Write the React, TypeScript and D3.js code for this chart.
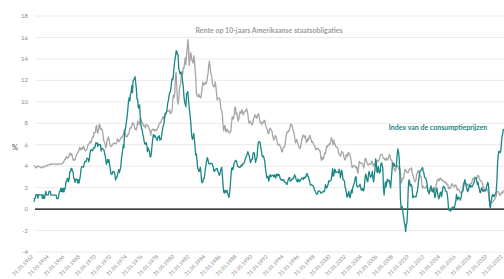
import React from "react";
import * as d3 from "d3";

// Monthly values, Jan 1962 .. Jan 2022
const bondYield: number[] = [
  // 1962
  4.08, 4.04, 3.93, 3.84, 3.87, 3.91, 4.01, 3.98, 3.98, 3.93, 3.92, 3.86,
  // 1963
  3.83, 3.92, 3.93, 3.97, 3.93, 3.99, 4.02, 4.0, 4.08, 4.11, 4.12, 4.13,
  // 1964
  4.17, 4.15, 4.22, 4.23, 4.2, 4.17, 4.19, 4.19, 4.2, 4.19, 4.15, 4.18,
  // 1965
  4.19, 4.21, 4.21, 4.2, 4.21, 4.21, 4.2, 4.25, 4.29, 4.35, 4.45, 4.62,
  // 1966
  4.61, 4.83, 4.87, 4.75, 4.78, 4.81, 5.02, 5.22, 5.18, 5.01, 5.16, 4.84,
  // 1967
  4.58, 4.63, 4.54, 4.59, 4.85, 5.02, 5.16, 5.28, 5.3, 5.48, 5.75, 5.7,
  // 1968
  5.53, 5.56, 5.74, 5.64, 5.87, 5.72, 5.5, 5.42, 5.46, 5.58, 5.7, 6.03,
  // 1969
  6.04, 6.19, 6.3, 6.17, 6.32, 6.57, 6.72, 6.69, 7.16, 7.1, 7.14, 7.65,
  // 1970
  7.79, 7.24, 7.07, 7.39, 7.91, 7.84, 7.46, 7.53, 7.39, 7.33, 6.84, 6.39,
  // 1971
  6.24, 6.11, 5.7, 5.83, 6.39, 6.52, 6.73, 6.58, 6.14, 5.93, 5.81, 5.93,
  // 1972
  5.95, 6.08, 6.07, 6.19, 6.13, 6.11, 6.11, 6.21, 6.55, 6.48, 6.28, 6.36,
  // 1973
  6.46, 6.64, 6.71, 6.67, 6.85, 6.9, 7.13, 7.4, 7.09, 6.79, 6.73, 6.74,
  // 1974
  6.99, 6.96, 7.21, 7.51, 7.58, 7.54, 7.81, 8.04, 8.04, 7.9, 7.68, 7.43,
  // 1975
  7.5, 7.39, 7.73, 8.23, 8.06, 7.86, 8.06, 8.4, 8.43, 8.14, 8.05, 8.0,
  // 1976
  7.74, 7.79, 7.73, 7.56, 7.9, 7.86, 7.83, 7.77, 7.59, 7.41, 7.29, 6.87,
  // 1977
  7.21, 7.39, 7.46, 7.37, 7.46, 7.28, 7.33, 7.4, 7.34, 7.52, 7.58, 7.69,
  // 1978
  7.96, 8.03, 8.04, 8.15, 8.35, 8.46, 8.64, 8.41, 8.42, 8.64, 8.81, 9.01,
  // 1979
  9.1, 9.1, 9.12, 9.18, 9.25, 8.91, 8.95, 9.03, 9.33, 10.3, 10.65, 10.39,
  // 1980
  10.8, 12.41, 12.75, 11.47, 10.18, 9.78, 10.25, 11.1, 11.51, 11.75, 12.68, 12.84,
  // 1981
  12.57, 13.19, 13.12, 13.68, 14.1, 13.47, 14.28, 14.94, 15.8, 15.15, 13.39, 13.72,
  // 1982
  14.59, 14.43, 13.86, 13.87, 13.62, 14.3, 13.95, 13.06, 12.34, 10.91, 10.55, 10.54,
  // 1983
  10.46, 10.72, 10.51, 10.4, 10.38, 10.85, 11.38, 11.85, 11.65, 11.54, 11.69, 11.83,
  // 1984
  11.67, 11.84, 12.32, 12.63, 13.41, 13.8, 13.36, 12.72, 12.52, 12.16, 11.57, 11.5,
  // 1985
  11.38, 11.51, 11.86, 11.43, 10.85, 10.16, 10.31, 10.33, 10.37, 10.24, 9.78, 9.26,
  // 1986
  9.19, 8.7, 7.78, 7.3, 7.71, 7.8, 7.3, 7.17, 7.45, 7.43, 7.25, 7.11,
  // 1987
  7.08, 7.25, 7.25, 8.02, 8.61, 8.4, 8.45, 8.76, 9.42, 9.52, 8.86, 8.99,
  // 1988
  8.67, 8.21, 8.37, 8.72, 9.09, 8.92, 9.06, 9.26, 8.98, 8.8, 8.96, 9.11,
  // 1989
  9.09, 9.17, 9.36, 9.18, 8.86, 8.28, 8.02, 8.11, 8.19, 8.01, 7.87, 7.84,
  // 1990
  8.21, 8.47, 8.59, 8.79, 8.76, 8.48, 8.47, 8.75, 8.89, 8.72, 8.39, 8.08,
  // 1991
  8.09, 7.85, 8.11, 8.04, 8.07, 8.28, 8.27, 7.9, 7.65, 7.53, 7.42, 7.09,
  // 1992
  7.03, 7.34, 7.54, 7.48, 7.39, 7.26, 6.84, 6.59, 6.42, 6.59, 6.87, 6.77,
  // 1993
  6.6, 6.26, 5.98, 5.97, 6.04, 5.96, 5.81, 5.68, 5.36, 5.33, 5.72, 5.77,
  // 1994
  5.75, 5.97, 6.48, 6.97, 7.18, 7.1, 7.3, 7.24, 7.46, 7.74, 7.96, 7.81,
  // 1995
  7.78, 7.47, 7.2, 7.06, 6.63, 6.17, 6.28, 6.49, 6.2, 6.04, 5.93, 5.71,
  // 1996
  5.65, 5.81, 6.27, 6.51, 6.74, 6.91, 6.87, 6.64, 6.83, 6.53, 6.2, 6.3,
  // 1997
  6.58, 6.42, 6.69, 6.89, 6.71, 6.49, 6.22, 6.3, 6.21, 6.03, 5.88, 5.81,
  // 1998
  5.54, 5.57, 5.65, 5.64, 5.65, 5.5, 5.46, 5.34, 4.81, 4.53, 4.83, 4.65,
  // 1999
  4.72, 5.0, 5.23, 5.18, 5.54, 5.9, 5.79, 5.94, 5.92, 6.11, 6.03, 6.28,
  // 2000
  6.66, 6.52, 6.26, 5.99, 6.44, 6.1, 6.05, 5.83, 5.8, 5.74, 5.72, 5.24,
  // 2001
  5.16, 5.1, 4.89, 5.14, 5.39, 5.28, 5.24, 4.97, 4.73, 4.57, 4.65, 5.09,
  // 2002
  5.04, 4.91, 5.28, 5.21, 5.16, 4.93, 4.65, 4.26, 3.87, 3.94, 4.05, 4.03,
  // 2003
  4.05, 3.9, 3.81, 3.96, 3.57, 3.33, 3.98, 4.45, 4.27, 4.29, 4.3, 4.27,
  // 2004
  4.15, 4.08, 3.83, 4.35, 4.72, 4.73, 4.5, 4.28, 4.13, 4.1, 4.19, 4.23,
  // 2005
  4.22, 4.17, 4.5, 4.34, 4.14, 4.0, 4.18, 4.26, 4.2, 4.46, 4.54, 4.47,
  // 2006
  4.42, 4.57, 4.72, 4.99, 5.11, 5.11, 5.09, 4.88, 4.72, 4.73, 4.6, 4.56,
  // 2007
  4.76, 4.72, 4.56, 4.69, 4.75, 5.1, 5.0, 4.67, 4.52, 4.53, 4.15, 4.1,
  // 2008
  3.74, 3.74, 3.51, 3.68, 3.88, 4.1, 4.01, 3.89, 3.69, 3.81, 3.53, 2.42,
  // 2009
  2.52, 2.87, 2.82, 2.93, 3.29, 3.72, 3.56, 3.59, 3.4, 3.39, 3.4, 3.59,
  // 2010
  3.73, 3.69, 3.73, 3.85, 3.42, 3.2, 3.01, 2.7, 2.65, 2.54, 2.76, 3.29,
  // 2011
  3.39, 3.58, 3.41, 3.46, 3.17, 3.0, 3.0, 2.3, 1.98, 2.15, 2.01, 1.98,
  // 2012
  1.97, 1.97, 2.17, 2.05, 1.8, 1.62, 1.53, 1.68, 1.72, 1.75, 1.65, 1.72,
  // 2013
  1.91, 1.98, 1.96, 1.76, 1.93, 2.3, 2.58, 2.74, 2.81, 2.62, 2.72, 2.9,
  // 2014
  2.86, 2.71, 2.72, 2.71, 2.56, 2.6, 2.54, 2.42, 2.53, 2.3, 2.33, 2.21,
  // 2015
  1.88, 1.98, 2.04, 1.94, 2.2, 2.36, 2.32, 2.17, 2.17, 2.07, 2.26, 2.24,
  // 2016
  2.09, 1.78, 1.89, 1.81, 1.81, 1.64, 1.5, 1.56, 1.63, 1.76, 2.14, 2.49,
  // 2017
  2.43, 2.42, 2.48, 2.3, 2.3, 2.19, 2.32, 2.21, 2.2, 2.36, 2.35, 2.4,
  // 2018
  2.58, 2.86, 2.84, 2.87, 2.98, 2.91, 2.89, 2.89, 3.0, 3.15, 3.12, 2.83,
  // 2019
  2.71, 2.68, 2.57, 2.53, 2.4, 2.07, 2.06, 1.63, 1.7, 1.71, 1.81, 1.86,
  // 2020
  1.76, 1.5, 0.87, 0.66, 0.67, 0.73, 0.62, 0.65, 0.68, 0.79, 0.87, 0.93,
  // 2021
  1.08, 1.26, 1.61, 1.64, 1.62, 1.52, 1.32, 1.28, 1.37, 1.58, 1.56, 1.47,
  // 2022
  1.76,
];

const cpiInflation: number[] = [
  // 1962
  0.67, 1.01, 1.01, 1.34, 1.34, 1.34, 1.01, 1.34, 1.33, 1.33, 1.33, 1.33,
  // 1963
  1.33, 1.0, 1.33, 0.99, 0.99, 1.32, 1.66, 1.32, 1.32, 1.32, 1.32, 1.64,
  // 1964
  1.64, 1.64, 1.31, 1.31, 1.31, 1.31, 1.3, 1.3, 1.3, 1.3, 1.29, 0.97,
  // 1965
  0.97, 0.97, 1.29, 1.62, 1.62, 1.94, 1.62, 1.93, 1.61, 1.93, 1.61, 1.92,
  // 1966
  1.92, 2.56, 2.56, 2.87, 2.87, 2.53, 2.84, 3.48, 3.49, 3.79, 3.79, 3.49,
  // 1967
  3.46, 2.83, 2.82, 2.5, 2.8, 2.79, 2.77, 2.45, 2.75, 2.43, 2.74, 3.04,
  // 1968
  3.65, 3.95, 3.94, 3.93, 3.92, 4.21, 4.45, 4.44, 4.43, 4.73, 4.72, 4.72,
  // 1969
  4.4, 4.69, 5.25, 5.52, 5.51, 5.49, 5.44, 5.71, 5.7, 5.68, 5.93, 6.2,
  // 1970
  6.18, 6.15, 5.82, 6.06, 6.04, 6.01, 5.98, 5.41, 5.66, 5.64, 5.6, 5.57,
  // 1971
  5.29, 5.0, 4.71, 4.16, 4.4, 4.62, 4.36, 4.62, 4.08, 3.81, 3.28, 3.27,
  // 1972
  3.27, 3.51, 3.5, 3.49, 3.23, 2.71, 2.95, 2.94, 3.19, 3.42, 3.67, 3.41,
  // 1973
  3.65, 3.87, 4.59, 5.06, 5.53, 5.99, 5.73, 7.38, 7.36, 7.8, 8.25, 8.71,
  // 1974
  9.39, 10.02, 10.39, 10.09, 10.71, 10.86, 11.51, 10.86, 11.95, 12.06, 12.2, 12.34,
  // 1975
  11.8, 11.23, 10.25, 10.21, 9.47, 9.39, 9.72, 8.6, 7.91, 7.44, 7.38, 6.94,
  // 1976
  6.72, 6.29, 6.07, 6.05, 6.2, 5.97, 5.35, 5.71, 5.49, 5.46, 4.88, 4.86,
  // 1977
  5.22, 5.91, 6.44, 6.95, 6.73, 6.87, 6.83, 6.62, 6.6, 6.39, 6.72, 6.7,
  // 1978
  6.84, 6.43, 6.55, 6.5, 6.97, 7.41, 7.7, 7.84, 8.31, 8.93, 8.89, 9.02,
  // 1979
  9.28, 9.86, 10.09, 10.49, 10.85, 10.89, 11.26, 11.82, 12.18, 12.07, 12.61, 13.29,
  // 1980
  13.91, 14.18, 14.76, 14.73, 14.41, 14.38, 13.13, 12.87, 12.6, 12.77, 12.65, 12.52,
  // 1981
  11.83, 11.41, 10.49, 10.0, 9.78, 9.55, 10.76, 10.8, 10.95, 10.14, 9.59, 8.92,
  // 1982
  8.39, 7.62, 6.78, 6.51, 6.68, 7.06, 6.44, 5.85, 5.04, 5.14, 4.59, 3.83,
  // 1983
  3.71, 3.49, 3.6, 3.9, 3.55, 2.58, 2.46, 2.56, 2.86, 2.85, 3.27, 3.79,
  // 1984
  4.19, 4.6, 4.8, 4.56, 4.23, 4.22, 4.2, 4.29, 4.27, 4.26, 4.05, 3.95,
  // 1985
  3.53, 3.52, 3.7, 3.69, 3.77, 3.76, 3.55, 3.35, 3.14, 3.23, 3.51, 3.8,
  // 1986
  3.89, 3.11, 2.26, 1.59, 1.49, 1.77, 1.58, 1.57, 1.75, 1.47, 1.28, 1.1,
  // 1987
  1.46, 2.1, 3.03, 3.78, 3.86, 3.65, 3.93, 4.28, 4.36, 4.53, 4.53, 4.43,
  // 1988
  4.05, 3.94, 3.93, 3.9, 3.89, 3.96, 4.13, 4.02, 4.17, 4.25, 4.25, 4.42,
  // 1989
  4.67, 4.83, 4.98, 5.11, 5.36, 5.17, 4.98, 4.71, 4.34, 4.49, 4.66, 4.65,
  // 1990
  5.2, 5.26, 5.23, 4.71, 4.36, 4.67, 4.82, 5.62, 6.16, 6.29, 6.27, 6.11,
  // 1991
  5.65, 5.31, 4.9, 4.89, 4.95, 4.7, 4.45, 3.8, 3.39, 2.92, 2.99, 3.06,
  // 1992
  2.6, 2.82, 3.19, 3.18, 3.02, 3.09, 3.16, 3.15, 2.99, 3.2, 3.05, 2.9,
  // 1993
  3.26, 3.25, 3.09, 3.23, 3.22, 3.0, 2.78, 2.77, 2.69, 2.75, 2.68, 2.75,
  // 1994
  2.52, 2.52, 2.51, 2.36, 2.29, 2.49, 2.77, 2.9, 2.96, 2.61, 2.67, 2.67,
  // 1995
  2.8, 2.86, 2.85, 3.05, 3.19, 3.04, 2.76, 2.62, 2.54, 2.81, 2.61, 2.54,
  // 1996
  2.73, 2.65, 2.84, 2.9, 2.89, 2.75, 2.95, 2.88, 3.0, 2.99, 3.26, 3.32,
  // 1997
  3.04, 3.03, 2.76, 2.5, 2.23, 2.3, 2.23, 2.23, 2.15, 2.08, 1.83, 1.7,
  // 1998
  1.57, 1.44, 1.37, 1.44, 1.69, 1.68, 1.68, 1.62, 1.49, 1.49, 1.55, 1.61,
  // 1999
  1.67, 1.61, 1.73, 2.28, 2.09, 1.96, 2.14, 2.26, 2.63, 2.56, 2.62, 2.68,
  // 2000
  2.74, 3.22, 3.76, 3.07, 3.19, 3.73, 3.66, 3.41, 3.45, 3.45, 3.45, 3.39,
  // 2001
  3.73, 3.53, 2.92, 3.27, 3.62, 3.25, 2.72, 2.72, 2.65, 2.13, 1.9, 1.55,
  // 2002
  1.14, 1.14, 1.48, 1.64, 1.18, 1.07, 1.46, 1.8, 1.51, 2.03, 2.2, 2.38,
  // 2003
  2.6, 2.98, 3.02, 2.22, 2.06, 2.11, 2.11, 2.16, 2.32, 2.04, 1.77, 1.88,
  // 2004
  1.93, 1.69, 1.74, 2.29, 3.05, 3.27, 2.99, 2.65, 2.54, 3.19, 3.52, 3.26,
  // 2005
  2.97, 3.01, 3.15, 3.51, 2.8, 2.53, 3.17, 3.64, 4.69, 4.35, 3.46, 3.42,
  // 2006
  3.99, 3.6, 3.36, 3.55, 4.17, 4.32, 4.15, 3.82, 2.06, 1.31, 1.97, 2.54,
  // 2007
  2.08, 2.42, 2.78, 2.57, 2.69, 2.69, 2.36, 1.97, 2.76, 3.54, 4.31, 4.08,
  // 2008
  4.28, 4.03, 3.98, 3.94, 4.18, 5.02, 5.6, 5.37, 4.94, 3.66, 1.07, 0.09,
  // 2009
  0.03, 0.24, -0.38, -0.74, -1.28, -1.43, -2.1, -1.48, -1.29, -0.18, 1.84, 2.72,
  // 2010
  2.63, 2.14, 2.31, 2.24, 2.02, 1.05, 1.24, 1.15, 1.14, 1.17, 1.14, 1.5,
  // 2011
  1.63, 2.11, 2.68, 3.16, 3.57, 3.56, 3.63, 3.77, 3.87, 3.53, 3.39, 2.96,
  // 2012
  2.93, 2.87, 2.65, 2.3, 1.7, 1.66, 1.41, 1.69, 1.99, 2.16, 1.76, 1.74,
  // 2013
  1.59, 1.98, 1.47, 1.06, 1.36, 1.75, 1.96, 1.52, 1.18, 0.96, 1.24, 1.5,
  // 2014
  1.58, 1.13, 1.51, 1.95, 2.13, 2.07, 1.99, 1.7, 1.66, 1.66, 1.32, 0.76,
  // 2015
  -0.09, -0.03, -0.07, -0.2, -0.04, 0.12, 0.17, 0.2, -0.04, 0.17, 0.5, 0.73,
  // 2016
  1.37, 1.02, 0.85, 1.13, 1.02, 1.01, 0.84, 1.06, 1.46, 1.64, 1.69, 2.07,
  // 2017
  2.5, 2.74, 2.38, 2.2, 1.87, 1.63, 1.73, 1.94, 2.23, 2.04, 2.2, 2.11,
  // 2018
  2.07, 2.21, 2.36, 2.46, 2.8, 2.87, 2.95, 2.7, 2.28, 2.52, 2.18, 1.91,
  // 2019
  1.55, 1.52, 1.86, 2.0, 1.79, 1.65, 1.81, 1.75, 1.71, 1.76, 2.05, 2.29,
  // 2020
  2.49, 2.33, 1.54, 0.33, 0.12, 0.65, 0.99, 1.31, 1.37, 1.18, 1.17, 1.36,
  // 2021
  1.4, 1.68, 2.62, 4.16, 4.99, 5.39, 5.37, 5.25, 5.39, 6.22, 6.81, 7.04,
  // 2022
  7.48,
];

const xTickLabels: string[] = [
  "31.01.1962", "31.01.1964", "31.01.1966", "31.01.1968", "31.01.1970",
  "31.01.1972", "31.01.1974", "31.01.1976", "31.01.1978", "31.01.1980",
  "31.01.1982", "31.01.1984", "31.01.1986", "31.01.1988", "31.01.1990",
  "31.01.1992", "31.01.1994", "31.01.1996", "31.01.1998", "31.01.2000",
  "31.01.2002", "31.01.2004", "31.01.2006", "31.01.2008", "31.01.2010",
  "31.01.2012", "31.01.2014", "31.01.2016", "31.01.2018", "31.01.2020",
  "31.01.2022",
];
const xTickStep = 24; // months between labels
const yTicks: number[] = [-4, -2, 0, 2, 4, 6, 8, 10, 12, 14, 16, 18];

const W = 504;
const H = 279;
const FONT = "Lato, 'Open Sans', sans-serif";
const TEAL = "#1a8784";
const GRAY = "#a6a6a6";

export default function App() {
  const n = bondYield.length;
  const x = d3.scaleLinear().domain([0, n - 1]).range([34, 503.4]);
  const y = d3.scaleLinear().domain([-4, 18]).range([252, 16]);
  const line = d3
    .line<number>()
    .x((_, i) => x(i))
    .y((d) => y(d));

  const gridX0 = 35;
  const gridX1 = W;

  return (
    <svg
      width={W}
      height={H}
      style={{ position: "absolute", left: 0, top: 0, background: "#fff" }}
      fontFamily={FONT}
    >
      {yTicks.map((t) => (
        <g key={t}>
          <line
            x1={gridX0}
            x2={gridX1}
            y1={y(t)}
            y2={y(t)}
            stroke={t === 0 ? "#000" : "#e4e4e4"}
            strokeWidth={t === 0 ? 1.3 : 0.8}
          />
          <text
            x={28}
            y={y(t)}
            dy="0.35em"
            textAnchor="end"
            fontSize={6}
            fill="#8a8a8a"
          >
            {t}
          </text>
        </g>
      ))}
      <text x={15} y={147} dy="0.35em" textAnchor="middle" fontSize={8} fill="#555">
        %
      </text>
      {xTickLabels.map((lab, k) => {
        const px = x(k * xTickStep) - 0.5;
        const py = 257;
        return (
          <text
            key={lab}
            x={px}
            y={py}
            textAnchor="end"
            fontSize={5.3}
            fill="#8a8a8a"
            transform={`rotate(-45 ${px} ${py})`}
          >
            {lab}
          </text>
        );
      })}
      <path d={line(bondYield) || ""} fill="none" stroke={GRAY} strokeWidth={1.3} strokeLinejoin="round" />
      <path d={line(cpiInflation) || ""} fill="none" stroke={TEAL} strokeWidth={1.3} strokeLinejoin="round" />
      <text x={269} y={31} dy="0.35em" textAnchor="middle" fontSize={7} fontWeight={700} fill="#9d9d9d">
        Rente op 10-jaars Amerikaanse staatsobligaties
      </text>
      <text x={438} y={128} dy="0.35em" textAnchor="middle" fontSize={7} fontWeight={700} fill={TEAL}>
        Index van de consumptieprijzen
      </text>
    </svg>
  );
}
